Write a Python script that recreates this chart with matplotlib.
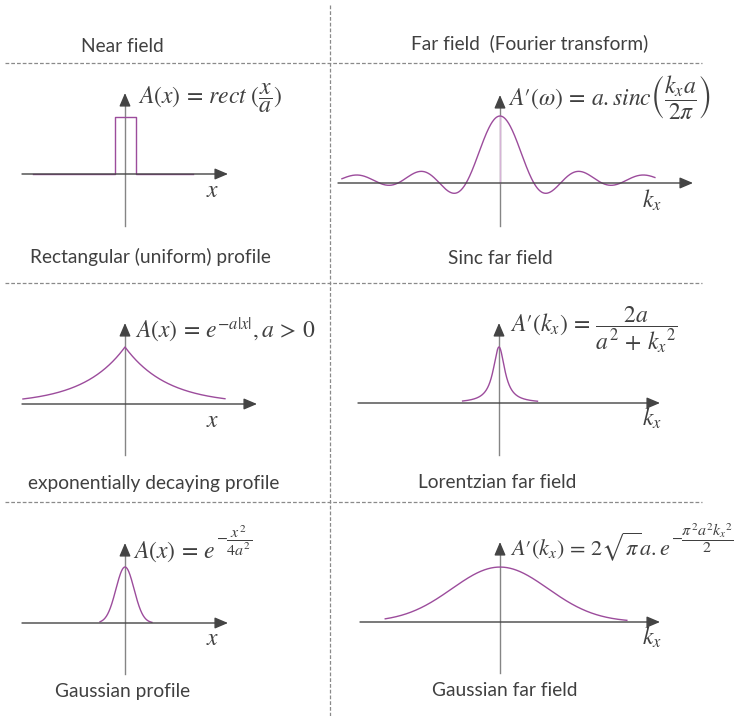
import numpy as np
import matplotlib
matplotlib.use("Agg")
import matplotlib.pyplot as plt

plt.rcParams["mathtext.fontset"] = "stix"

W, H = 743, 716
TEXT = "#404040"
CURVE = "#9c4c9c"
AXIS_DARK = "#444444"
AXIS_LIGHT = "#858585"
DIVIDER = "#8a8a8a"
FONT = "Lato"

# Headings and captions
col_titles = ["Near field", "Far field  (Fourier transform)"]
captions = ["Rectangular (uniform) profile", "Sinc far field",
            "exponentially decaying profile", "Lorentzian far field",
            "Gaussian profile", "Gaussian far field"]
# Formula bodies; Gaussian exponents are set separately at a smaller size
formulas = [r"$A(x)\,=\,rect\ (\dfrac{x}{a})$",
            r"$A′(\omega)\,=\,a.sinc\left(\dfrac{k_x a}{2\pi}\right)$",
            r"$A(x)\,=\,e^{-a|x|}, a\,>\,0$",
            r"$A′(k_x)\,=\,\dfrac{2a}{a^2\,+\,{k_x}^2}$",
            r"$A(x)\,=\,e$",
            r"$A′(k_x)\,=\,2\sqrt{\pi}a.e$"]
formula_sizes = [17, 17, 17, 17, 17, 16]
exponents = [None, None, None, None,
             r"$-\dfrac{x^2}{4a^2}$",
             r"$-\dfrac{\pi^2 a^2 {k_x}^2}{2}$"]
axis_names = [r"$x$", r"$k_x$", r"$x$", r"$k_x$", r"$x$", r"$k_x$"]

# Profile parameters (each panel in its own units)
rect_a = 1.0
rect_height = 1.0
rect_span = [-4.4, 3.25]

sinc_a = 1.0
sinc_offset = 0.055
sinc_span = [-4.94, 4.84]

exp_a = 1.0
exp_span = [-2.43, 2.38]

lor_a = 1.0
lor_span = [-5.2, 5.5]

gauss_a = 1.0
gauss_span = [-3.9, 4.2]

fgauss_a = 1.0
fgauss_span = [-0.76, 0.84]

fig = plt.figure(figsize=(W / 100, H / 100), dpi=100)

# Base layer in pixel units for the dashed grid
base = fig.add_axes([0, 0, 1, 1])
base.set_xlim(0, W)
base.set_ylim(H, 0)
base.axis("off")
for yy in (63, 283, 502):
    base.plot([5, 702], [yy, yy], color=DIVIDER, lw=0.9, dashes=(3, 1.6))
base.plot([330, 330], [5, H], color=DIVIDER, lw=0.9, dashes=(3, 1.6))


def ftext(x, y, s, **kw):
    return fig.text(x / W, 1 - y / H, s, **kw)


def panel(origin, sx, sy, xaxis, yaxis):
    """Axes whose data origin sits at a pixel origin with given px-per-unit scales."""
    ox, oy = origin
    ax = fig.add_axes([0, 0, 1, 1])
    ax.patch.set_alpha(0)
    ax.axis("off")
    ax.set_xlim(-ox / sx, (W - ox) / sx)
    ax.set_ylim(-(H - oy) / sy, oy / sy)
    x0, x1 = (xaxis[0] - ox) / sx, (xaxis[1] - ox) / sx
    y0, y1 = (oy - yaxis[0]) / sy, (oy - yaxis[1]) / sy
    head = dict(arrowstyle="-|>,head_length=0.4,head_width=0.17",
                color=AXIS_DARK, lw=1.0, mutation_scale=20,
                shrinkA=0, shrinkB=0)
    ax.annotate("", xy=(x1, 0), xytext=(x0, 0), arrowprops=head)
    ax.plot([0, 0], [y0, y1 - 6 / sy], color=AXIS_LIGHT, lw=1.0, zorder=1)
    ax.annotate("", xy=(0, y1), xytext=(0, y1 - 10 / sy), arrowprops=head)
    return ax


# 1. Rectangular aperture
ax1 = panel((125, 174), 21, 57, (22, 228), (226, 93))
rx = [rect_span[0], -rect_a / 2, -rect_a / 2, rect_a / 2, rect_a / 2, rect_span[1]]
ry = [0, 0, rect_height, rect_height, 0, 0]
ax1.plot(rx, ry, color=CURVE, lw=1.0, zorder=2)

# 2. Sinc far field
ax2 = panel((500, 183), 32, 63.5, (338, 693), (226, 95))
u = np.linspace(sinc_span[0], sinc_span[1], 800)
ax2.plot([0, 0], [0, sinc_a + sinc_offset], color="#d6b3d6", lw=1.0, zorder=1.5)
ax2.plot(u, sinc_a * np.sinc(u) + sinc_offset, color=CURVE, lw=1.0, zorder=2)

# 3. Exponentially decaying profile
ax3 = panel((125, 404), 42, 57, (22, 257), (455, 323))
xe = np.linspace(exp_span[0], exp_span[1], 801)
ax3.plot(xe, np.exp(-exp_a * np.abs(xe)), color=CURVE, lw=1.0, zorder=2)

# 4. Lorentzian far field
ax4 = panel((499, 403), 7, 28, (358, 660), (455, 323))
kl = np.linspace(lor_span[0], lor_span[1], 801)
ax4.plot(kl, 2 * lor_a / (lor_a ** 2 + kl ** 2), color=CURVE, lw=1.0, zorder=2)

# 5. Gaussian profile
ax5 = panel((125, 623), 6.4, 56, (22, 228), (674, 543))
xg = np.linspace(gauss_span[0], gauss_span[1], 600)
ax5.plot(xg, np.exp(-xg ** 2 / (4 * gauss_a ** 2)), color=CURVE, lw=1.0, zorder=2)

# 6. Gaussian far field
ax6 = panel((500, 622), 151, 15.5, (360, 660), (673, 542))
kg = np.linspace(fgauss_span[0], fgauss_span[1], 600)
ax6.plot(kg, 2 * np.sqrt(np.pi) * fgauss_a *
         np.exp(-np.pi ** 2 * fgauss_a ** 2 * kg ** 2 / 2),
         color=CURVE, lw=1.0, zorder=2)

# Text
ftext(122, 47, col_titles[0], ha="center", va="center", fontsize=13.8,
      family=FONT, color=TEXT)
ftext(530, 43, col_titles[1], ha="center", va="center", fontsize=13.8,
      family=FONT, color=TEXT)

cap_pos = [(150, 257), (500, 258), (154, 484), (497, 483), (123, 692), (505, 690)]
for (cx, cy), s in zip(cap_pos, captions):
    ftext(cx, cy, s, ha="center", va="center", fontsize=13.8, family=FONT, color=TEXT)

renderer = fig.canvas.get_renderer()
form_pos = [(138, 104), (508, 106), (135, 338), (510, 332), (133, 558), (510, 555)]
for (fx, fy), s, fs, ex in zip(form_pos, formulas, formula_sizes, exponents):
    t = ftext(fx, fy, s, ha="left", va="baseline", fontsize=fs, color=TEXT)
    if ex is not None:
        right = t.get_window_extent(renderer).x1
        ftext(right + 1, fy - 17, ex, ha="left", va="center", fontsize=11.5,
              color=TEXT)

name_pos = [(213, 190), (652, 200), (213, 420), (652, 418), (213, 638), (652, 637)]
for (nx, ny), s in zip(name_pos, axis_names):
    ftext(nx, ny, s, ha="center", va="center", fontsize=17, color=TEXT)

fig.savefig("out.png", dpi=100)
